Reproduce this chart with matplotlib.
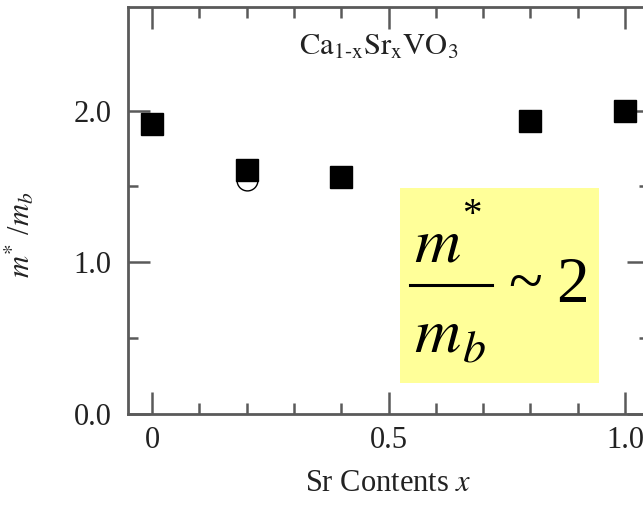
import matplotlib
matplotlib.use("Agg")
import matplotlib.pyplot as plt
from matplotlib.lines import Line2D
from matplotlib.patches import Rectangle
from matplotlib.ticker import FixedLocator, MultipleLocator

plt.rcParams["font.family"] = ["Liberation Serif", "DejaVu Serif"]
plt.rcParams["mathtext.fontset"] = "stix"

# Effective mass ratio versus Sr content
sr_content = [0.0, 0.2, 0.4, 0.8, 1.0]
mass_ratio = [1.91, 1.61, 1.565, 1.93, 2.00]

# Second estimate (open circle)
sr_content_open = [0.2]
mass_ratio_open = [1.54]

x_major = [0.0, 0.5, 1.0]
x_major_labels = ["0", "0.5", "1.0"]
y_major = [0.0, 1.0, 2.0]
y_major_labels = ["0.0", "1.0", "2.0"]

W, H = 643, 505
fig = plt.figure(figsize=(W / 100, H / 100), dpi=100)
ax = fig.add_axes([128.4 / W, 91 / H, 520.3 / W, 407 / H])

ax.plot(sr_content_open, mass_ratio_open, linestyle="none", marker="o",
        markersize=15, markerfacecolor="white", markeredgecolor="black",
        markeredgewidth=1.0, zorder=2, clip_on=False)
ax.plot(sr_content, mass_ratio, linestyle="none", marker="s",
        markersize=16.5, markerfacecolor="black", markeredgecolor="black",
        zorder=3, clip_on=False)

ax.set_xlim(-0.05, 1.05)
ax.set_ylim(0.0, 2.683)

ax.xaxis.set_major_locator(FixedLocator(x_major))
ax.set_xticklabels(x_major_labels)
ax.xaxis.set_minor_locator(MultipleLocator(0.1))
ax.yaxis.set_major_locator(FixedLocator(y_major))
ax.set_yticklabels(y_major_labels)
ax.yaxis.set_minor_locator(FixedLocator([0.5, 1.5]))

spine_color = "#5a5a5a"
for s in ax.spines.values():
    s.set_color(spine_color)
    s.set_linewidth(2.0)

ax.tick_params(which="both", direction="in", top=True, right=True,
               color=spine_color, width=1.8, labelsize=22,
               labelcolor="#222222")
ax.tick_params(axis="x", which="major", length=16, pad=9)
ax.tick_params(axis="x", which="minor", length=8)
ax.tick_params(axis="y", which="major", length=16, pad=12)
ax.tick_params(axis="y", which="minor", length=7)

ax.set_xlabel(r"Sr Contents $\mathit{x}$", fontsize=22, color="#222222",
              labelpad=10)
ax.set_ylabel(r"$m^{*}$ /$m_{b}$", fontsize=22, color="#222222")
ax.yaxis.set_label_coords((37 - 128.4) / 520.3, (414 - 235) / 407)

ax.text(0.48, 2.42, r"$\mathrm{Ca_{1\text{-}x}Sr_{x}VO_{3}}$",
        fontsize=22, ha="center", va="center", color="#222222")


def fpos(px, py):
    """Pixel position (from top-left) to figure fraction."""
    return px / W, (H - py) / H


# Highlight box with the summary ratio
fig.patches.append(Rectangle(fpos(400, 383), 199 / W, 195 / H,
                             transform=fig.transFigure,
                             facecolor="#ffff99", edgecolor="none",
                             zorder=5))
box_font = dict(color="black", zorder=6, transform=fig.transFigure)
fig.text(*fpos(414, 262), r"$m$", fontsize=46,
         ha="left", va="baseline", **box_font)
fig.text(*fpos(472, 216), "*", fontsize=28, family="Liberation Serif",
         ha="center", va="center", **box_font)
x0, y0 = fpos(410, 285)
x1, _ = fpos(492, 285)
fig.lines.append(Line2D([x0, x1], [y0, y0], transform=fig.transFigure,
                        color="black", linewidth=2.2, zorder=6))
fig.text(*fpos(414, 352), r"$m$", fontsize=46,
         ha="left", va="baseline", **box_font)
fig.text(*fpos(462, 362), r"$b$", fontsize=33,
         ha="left", va="baseline", **box_font)
fig.text(*fpos(525, 287), "~", fontsize=45, family="Liberation Serif",
         ha="center", va="center", **box_font)
fig.text(*fpos(556, 302), "2", fontsize=47, family="Liberation Serif",
         ha="left", va="baseline", **box_font)

fig.savefig("out.png", dpi=100)
